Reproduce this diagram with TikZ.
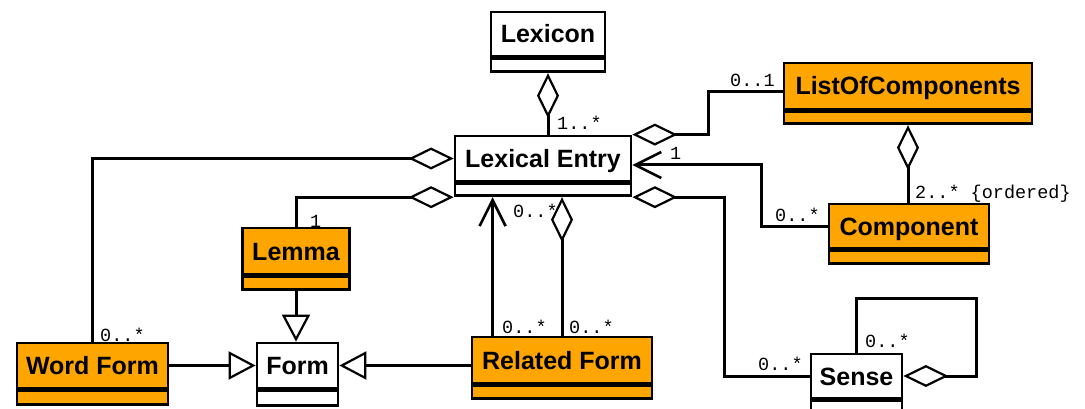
\documentclass[tikz,border=0pt]{standalone}
\usepackage{fontspec}
\setmainfont{Liberation Sans}
\newfontfamily\monof{Liberation Mono}
\usetikzlibrary{arrows.meta,calc}
\definecolor{umlorange}{RGB}{255,165,0}
\begin{document}
\begin{tikzpicture}[x=1pt,y=-1pt,
  box/.style={draw, line width=2.8pt, inner sep=0pt, fill=umlorange},
  cls/.style={box, font=\fontsize{25}{30}\selectfont\bfseries, text height=18pt, text depth=0pt},
  attr/.style={box, anchor=north},
  plainbox/.style={fill=white},
  conn/.style={line width=3pt},
  agg/.style={conn, {Diamond[length=45pt,width=22pt,fill=white,line width=2.2pt]}-},
  aggend/.style={conn, -{Diamond[length=45pt,width=22pt,fill=white,line width=2.2pt]}},
  gen/.style={conn, -{Triangle[length=27pt,width=28pt,fill=white,line width=2.2pt]}},
  nav/.style={conn, -{Straight Barb[length=26pt,width=26pt,line width=2.6pt]}},
  mult/.style={font=\monof\fontsize{18.5}{22}\selectfont, inner sep=0pt, anchor=base west},
]
\useasboundingbox (0,0) rectangle (1085,409);
\clip (0,0) rectangle (1085,409);

% classes
\node[cls, plainbox, minimum width=114pt, minimum height=44pt] (lexicon) at (548,34) {Lexicon};
\node[attr, plainbox, minimum width=114pt, minimum height=13pt] (lexicon-a) at (lexicon.south) {};

\node[cls, plainbox, minimum width=176pt, minimum height=45pt] (le) at (543,158.5) {Lexical Entry};
\node[attr, plainbox, minimum width=176pt, minimum height=12pt] (le-a) at (le.south) {};

\node[cls, minimum width=248pt, minimum height=46pt] (loc) at (908,86) {ListOfComponents};
\node[attr, minimum width=248pt, minimum height=12pt] (loc-a) at (loc.south) {};

\node[cls, minimum width=160pt, minimum height=44pt] (comp) at (909,226) {Component};
\node[attr, minimum width=160pt, minimum height=13pt] (comp-a) at (comp.south) {};

\node[cls, minimum width=107pt, minimum height=46pt] (lemma) at (296,251) {Lemma};
\node[attr, minimum width=107pt, minimum height=13pt] (lemma-a) at (lemma.south) {};

\node[cls, minimum width=151pt, minimum height=45pt] (wf) at (92.5,365.5) {Word Form};
\node[attr, minimum width=151pt, minimum height=14pt] (wf-a) at (wf.south) {};

\node[cls, plainbox, minimum width=81pt, minimum height=45pt] (form) at (297.5,365.5) {Form};
\node[attr, plainbox, minimum width=81pt, minimum height=15pt] (form-a) at (form.south) {};

\node[cls, minimum width=180pt, minimum height=46pt] (rf) at (562,360) {Related Form};
\node[attr, minimum width=180pt, minimum height=13pt] (rf-a) at (rf.south) {};

\node[cls, plainbox, minimum width=91pt, minimum height=44pt] (sense) at (856.5,376) {Sense};
\node[attr, plainbox, minimum width=91pt, minimum height=16pt] (sense-a) at (sense.south) {};

% multiplicities
\node[mult] (m1) at (557,130) {1..*};
\node[mult] (m2) at (100,341) {0..*};
\node[mult] (m3) at (310,227) {1};
\node[mult] (m4) at (513,218) {0..*};
\node[mult] (m5) at (502,333) {0..*};
\node[mult] (m6) at (569,333) {0..*};
\node[mult] (m7) at (758,370) {0..*};
\node[mult] (m8) at (730,87) {0..1};
\node[mult] (m9) at (670,160) {1};
\node[mult] (m10) at (775,222) {0..*};
\node[mult] (m11) at (915,198) {2..* \{ordered\}};
\node[mult] (m12) at (865,347) {0..*};

% connectors
\draw[agg] (lexicon-a.south) -- (lexicon-a.south |- le.north);
\draw[agg] (le.west) -| (wf.north);
\draw[agg] (le-a.south west) -| (lemma.north);
\draw[gen] (lemma-a.south) -- (lemma-a.south |- form.north);
\draw[gen] (wf.east) -- (wf.east -| form.west);
\draw[gen] (rf.west |- form.east) -- (form.east);
\draw[nav] ($(rf.north west)+(22,0)$) coordinate (rfa) -- (rfa |- le-a.south);
\draw[aggend] (rf.north) -- (rf.north |- le-a.south);
\draw[agg] (le-a.south east) -- ++(92,0) |- (sense.west);
\draw[agg] (le.north east) -- ++(76,0) |- ($(loc.west)+(0,6)$);
\draw[nav] (comp.west) -- ++(-66,0) |- ($(le.east)+(0,6.5)$);
\draw[agg] (loc-a.south) -- (loc-a.south |- comp.north);
\draw[agg] (sense.east) -- ++(73,0) -- ++(0,-78) -| (sense.north);
\end{tikzpicture}
\end{document}
